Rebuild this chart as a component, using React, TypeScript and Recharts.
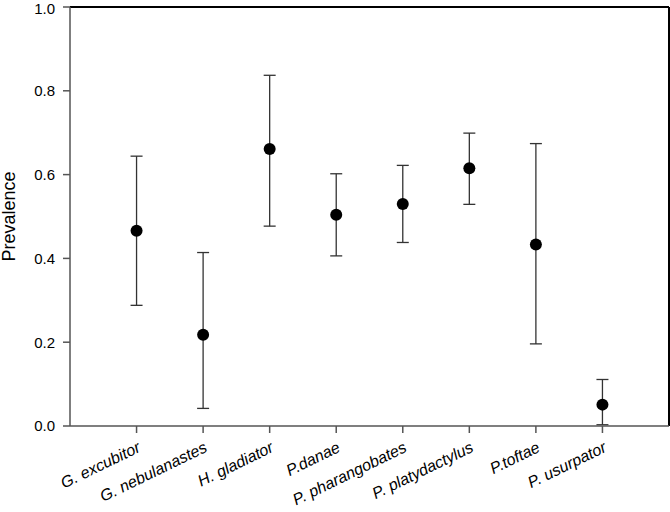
import {
  ScatterChart,
  Scatter,
  XAxis,
  YAxis,
  ErrorBar,
  ReferenceLine,
  Label,
} from "recharts";

const species = [
  "G. excubitor",
  "G. nebulanastes",
  "H. gladiator",
  "P.danae",
  "P. pharangobates",
  "P. platydactylus",
  "P.toftae",
  "P. usurpator",
];
const prevalence = [0.466, 0.218, 0.661, 0.504, 0.53, 0.615, 0.433, 0.051];
const lowerCI = [0.288, 0.042, 0.477, 0.406, 0.438, 0.529, 0.196, 0.003];
const upperCI = [0.644, 0.414, 0.837, 0.602, 0.622, 0.699, 0.674, 0.111];
const yTicks = [0, 0.2, 0.4, 0.6, 0.8, 1.0];

const data = species.map((name, i) => ({
  pos: i + 1,
  name,
  value: prevalence[i],
  err: [prevalence[i] - lowerCI[i], upperCI[i] - prevalence[i]],
}));

const FONT = "'Liberation Sans', Arial, sans-serif";
const AXIS = "#555";

// rotated italic species names, right end sitting under the tick
const SpeciesTick = (props: any) => {
  const { x, y, payload } = props;
  const label = species[payload.value - 1];
  if (!label) return null;
  return (
    <g transform={`translate(${x + 5},${y + 18})`}>
      <text
        x={0}
        y={0}
        textAnchor="end"
        transform="rotate(-26)"
        fontStyle="italic"
        fontSize={16}
        fontFamily={FONT}
        fill="#000"
      >
        {label}
      </text>
    </g>
  );
};

const Dot = (props: any) => {
  const { cx, cy } = props;
  return <circle cx={cx} cy={cy} r={6} fill="#000" />;
};

export default function App() {
  return (
    <div style={{ position: "absolute", left: 0, top: 0, background: "#fff" }}>
      <ScatterChart
        width={670}
        height={512}
        margin={{ top: 7, right: 1, left: 0, bottom: 0 }}
      >
        <XAxis
          type="number"
          dataKey="pos"
          domain={[0, 9]}
          ticks={[1, 2, 3, 4, 5, 6, 7, 8]}
          interval={0}
          height={86}
          tickSize={7}
          tickMargin={0}
          stroke={AXIS}
          strokeWidth={1.5}
          tick={<SpeciesTick />}
        />
        <YAxis
          type="number"
          dataKey="value"
          domain={[0, 1]}
          ticks={yTicks}
          width={70}
          tickSize={7}
          tickMargin={8}
          stroke={AXIS}
          strokeWidth={1.5}
          tickFormatter={(v: number) => v.toFixed(1)}
          tick={{ fill: "#000", fontSize: 15, fontFamily: FONT }}
        >
          <Label
            value="Prevalence"
            angle={-90}
            position="insideLeft"
            offset={9}
            style={{ textAnchor: "middle", fontSize: 18, fontFamily: FONT, fill: "#000" }}
          />
        </YAxis>
        <ReferenceLine y={1} stroke="#000" strokeWidth={2} />
        <ReferenceLine x={9} stroke="#000" strokeWidth={2} />
        <Scatter data={data} shape={<Dot />} isAnimationActive={false}>
          <ErrorBar
            dataKey="err"
            direction="y"
            width={6}
            stroke="#333"
            strokeWidth={1.3}
            isAnimationActive={false}
          />
        </Scatter>
      </ScatterChart>
    </div>
  );
}
